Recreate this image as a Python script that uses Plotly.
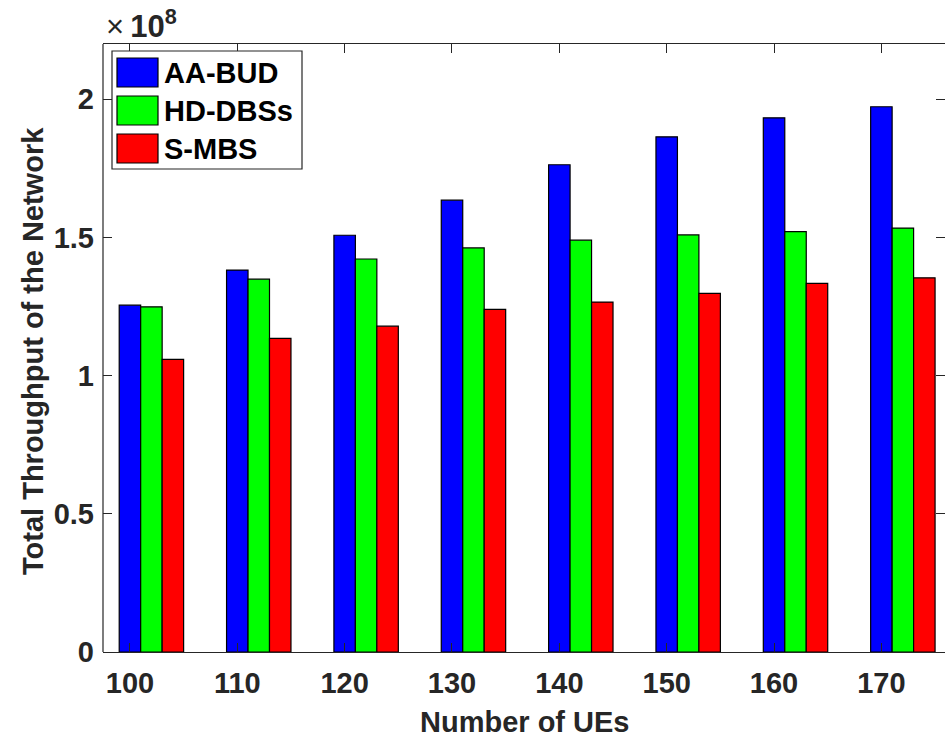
import plotly.graph_objects as go

# Number of UEs on the x axis
ues = [100, 110, 120, 130, 140, 150, 160, 170]

# Total network throughput, in units of 1e8
aa_bud = [1.255, 1.382, 1.508, 1.635, 1.763, 1.864, 1.933, 1.973]
hd_dbss = [1.249, 1.349, 1.422, 1.462, 1.490, 1.509, 1.521, 1.534]
s_mbs = [1.059, 1.135, 1.179, 1.240, 1.266, 1.298, 1.334, 1.354]

series_names = ["AA-BUD", "HD-DBSs", "S-MBS"]
series_values = [aa_bud, hd_dbss, s_mbs]
series_colors = ["#0000FF", "#00FF00", "#FF0000"]

y_tick_values = [0, 0.5, 1, 1.5, 2]
y_tick_labels = ["0", "0.5", "1", "1.5", "2"]
SCALE = 1e8

W, H = 945, 737
L, R, T, B = 103, 0, 44, 85
PW, PH = W - L - R, H - T - B

FONT = "Liberation Sans, Arial, sans-serif"
INK = "#262626"
FS = 29


def px_x(px):
    return (px - L) / PW


def px_y(py):
    return (H - B - py) / PH


fig = go.Figure()
bar_w = 2.0
for i, (name, vals, col) in enumerate(zip(series_names, series_values, series_colors)):
    fig.add_trace(go.Bar(
        x=ues,
        y=[v * SCALE for v in vals],
        name=name,
        width=bar_w,
        offset=-bar_w / 2 + i * bar_w,
        marker=dict(color=col, line=dict(color="#000000", width=1.2)),
        showlegend=False,
    ))

fig.update_layout(
    width=W, height=H,
    margin=dict(l=L, r=R, t=T, b=B, pad=0),
    paper_bgcolor="white", plot_bgcolor="white",
    barmode="overlay",
    font=dict(family=FONT, size=FS, color=INK, weight="bold"),
)

fig.update_xaxes(
    range=[97.49, 97.49 + PW / 10.735],
    tickvals=ues, ticktext=[str(u) for u in ues],
    ticks="inside", ticklen=9, tickwidth=1, tickcolor=INK,
    showline=True, linecolor=INK, linewidth=1.2, mirror="ticks",
    showgrid=False, zeroline=False,
    tickfont=dict(family=FONT, size=FS, color=INK, weight="bold"),
    ticklabelstandoff=5,
)
fig.update_yaxes(
    range=[0, 2.2 * SCALE],
    tickvals=[v * SCALE for v in y_tick_values], ticktext=y_tick_labels,
    ticks="inside", ticklen=9, tickwidth=1, tickcolor=INK,
    showline=False, mirror="ticks",
    showgrid=False, zeroline=False,
    tickfont=dict(family=FONT, size=FS, color=INK, weight="bold"),
    ticklabelstandoff=8,
)

# left axis line (the right edge of the box has no line in view)
fig.add_shape(type="line", xref="paper", yref="paper", x0=0, x1=0, y0=0, y1=1,
              line=dict(color=INK, width=1.2))

# axis titles
fig.add_annotation(text="Number of UEs", xref="paper", yref="paper",
                   x=px_x(524), y=px_y(722), xanchor="center", yanchor="middle",
                   showarrow=False, font=dict(family=FONT, size=FS, color=INK, weight="bold"))
fig.add_annotation(text="Total Throughput of the Network", xref="paper", yref="paper",
                   x=px_x(33), y=px_y(351), xanchor="center", yanchor="middle",
                   textangle=-90, showarrow=False,
                   font=dict(family=FONT, size=FS, color=INK, weight="bold"))

# exponent label above the y axis
fig.add_annotation(text="\u00d7\u2009<b>10<sup>8</sup></b>", xref="paper", yref="paper",
                   x=px_x(104), y=px_y(46), xanchor="left", yanchor="bottom",
                   showarrow=False,
                   font=dict(family=FONT, size=31, color=INK, weight="normal"))

# legend box
lx0, lx1, ly0, ly1 = 112, 302, 51, 169
fig.add_shape(type="rect", xref="paper", yref="paper",
              x0=px_x(lx0), x1=px_x(lx1), y0=px_y(ly1), y1=px_y(ly0),
              line=dict(color=INK, width=1.2), fillcolor="white", layer="above")
for i, (name, col) in enumerate(zip(series_names, series_colors)):
    top = 58 + i * 38
    fig.add_shape(type="rect", xref="paper", yref="paper",
                  x0=px_x(117), x1=px_x(158), y0=px_y(top + 29), y1=px_y(top),
                  line=dict(color="#000000", width=1.2), fillcolor=col, layer="above")
    fig.add_annotation(text=name, xref="paper", yref="paper",
                       x=px_x(162), y=px_y(top + 15), xanchor="left", yanchor="middle",
                       showarrow=False,
                       font=dict(family=FONT, size=FS, color="#000000", weight="bold"))

fig.write_html("out.html")
